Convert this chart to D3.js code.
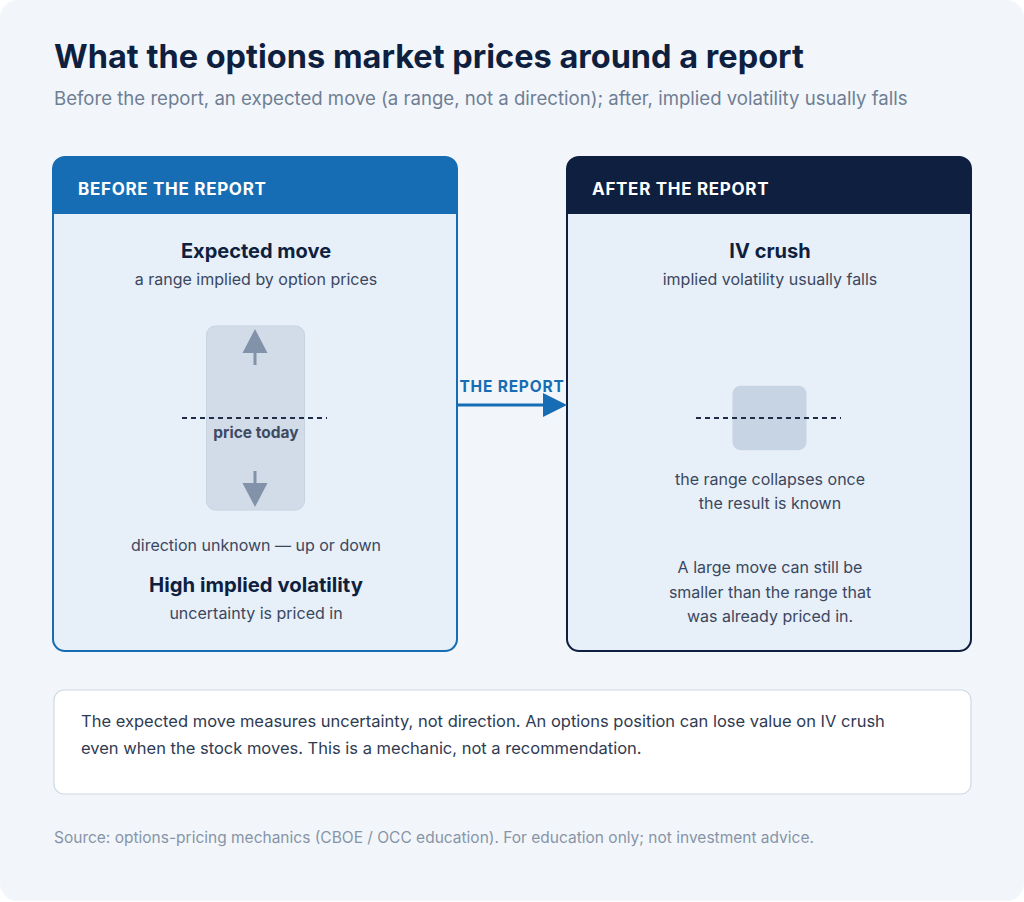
<!DOCTYPE html>
<html><head><meta charset="utf-8">
<script src="https://cdn.jsdelivr.net/npm/d3@7"></script>
<style>
html,body{margin:0;padding:0;background:#ffffff;}
svg{display:block;font-family:Inter,"Noto Sans",sans-serif;}
</style></head>
<body>
<svg id="c" width="1024" height="902"></svg>
<script>
// ---- data ----
const title = "What the options market prices around a report";
const subtitle = "Before the report, an expected move (a range, not a direction); after, implied volatility usually falls";
const panelNames = ["BEFORE THE REPORT", "AFTER THE REPORT"];
const panelHeads = ["Expected move", "IV crush"];
const panelSubs = ["a range implied by option prices", "implied volatility usually falls"];
const bandHalfWidths = [8, 2.8];          // expected-move half range (% of price), before vs after
const bandLabels = ["price today", ""];
const leftLowerLines = ["direction unknown — up or down"];
const leftFootHead = "High implied volatility";
const leftFootSub = "uncertainty is priced in";
const rightMidLines = ["the range collapses once", "the result is known"];
const rightFootLines = ["A large move can still be", "smaller than the range that", "was already priced in."];
const arrowLabel = "THE REPORT";
const noteLines = ["The expected move measures uncertainty, not direction. An options position can lose value on IV crush",
                   "even when the stock moves. This is a mechanic, not a recommendation."];
const source = "Source: options-pricing mechanics (CBOE / OCC education). For education only; not investment advice.";

// ---- drawing ----
const svg = d3.select("#c");
const C = {navy:"#0f1f40", blue:"#176db3", body:"#e7eff8", text:"#3a4760", muted:"#6b7a90"};

svg.append("rect").attr("x",0).attr("y",0).attr("width",1024).attr("height",901).attr("rx",18).attr("fill","#f2f6fa");

svg.append("text").attr("x",54).attr("y",68).attr("font-size",32.5).attr("font-weight",700)
  .attr("fill",C.navy).text(title);
svg.append("text").attr("x",54).attr("y",105).attr("font-size",18.6).attr("fill","#6f7e94").text(subtitle);

const px = d3.scaleBand().domain(panelNames).range([53, 971]).paddingInner(110/514);
const panelTop = 157, panelBottom = 651, headH = 57;
const colors = [C.blue, C.navy];

// expected move scale (percent -> pixels), shared by both panels
const mid = 418;
const yMove = d3.scaleLinear().domain([-8, 8]).range([mid + 92, mid - 92]);

panelNames.forEach((name, i) => {
  const x0 = px(name), w = px.bandwidth(), cx = x0 + w/2;
  const g = svg.append("g");
  g.append("rect").attr("x",x0).attr("y",panelTop).attr("width",w).attr("height",panelBottom-panelTop)
    .attr("rx",12).attr("fill",C.body);
  g.append("path").attr("fill",colors[i])
    .attr("d",`M${x0},${panelTop+headH} V${panelTop+12} Q${x0},${panelTop} ${x0+12},${panelTop} H${x0+w-12} Q${x0+w},${panelTop} ${x0+w},${panelTop+12} V${panelTop+headH} Z`);
  g.append("rect").attr("x",x0).attr("y",panelTop).attr("width",w).attr("height",panelBottom-panelTop)
    .attr("rx",12).attr("fill","none").attr("stroke",colors[i]).attr("stroke-width",2);
  g.append("text").attr("x",x0+25).attr("y",195).attr("font-size",17).attr("font-weight",700)
    .attr("fill","#fff").attr("letter-spacing",0.7).text(name);
  g.append("text").attr("x",cx+1).attr("y",258).attr("text-anchor","middle").attr("font-size",20)
    .attr("font-weight",700).attr("fill",C.navy).text(panelHeads[i]);
  g.append("text").attr("x",cx+1).attr("y",285).attr("text-anchor","middle").attr("font-size",16)
    .attr("fill",C.text).text(panelSubs[i]);

  // expected move band
  const hw = bandHalfWidths[i];
  const bw = i === 0 ? 98 : 74;
  g.append("rect").attr("x",cx - bw/2 + 0.5).attr("y",yMove(hw)).attr("width",bw)
    .attr("height",yMove(-hw)-yMove(hw)).attr("rx",i===0?9:8)
    .attr("fill",i===0?"#d1dce8":"#c7d4e4").attr("stroke",i===0?"#c6d3e1":"none");
  g.append("line").attr("x1",cx-73).attr("x2",cx+72).attr("y1",mid).attr("y2",mid)
    .attr("stroke","#1f2d4a").attr("stroke-width",2).attr("stroke-dasharray","5,4");
  if (bandLabels[i]) {
    g.append("text").attr("x",cx+1).attr("y",438).attr("text-anchor","middle").attr("font-size",15.5)
      .attr("font-weight",700).attr("fill","#3d4a63").text(bandLabels[i]);
  }
  if (i === 0) {
    const top = yMove(hw), bot = yMove(-hw), ac = "#8292a8";
    g.append("path").attr("fill",ac).attr("d",`M${cx},${top+3} L${cx+12.5},${top+27} L${cx-12.5},${top+27} Z`);
    g.append("rect").attr("x",cx-1.5).attr("y",top+26).attr("width",3).attr("height",13).attr("fill",ac);
    g.append("path").attr("fill",ac).attr("d",`M${cx},${bot-3} L${cx+12.5},${bot-27} L${cx-12.5},${bot-27} Z`);
    g.append("rect").attr("x",cx-1.5).attr("y",bot-39).attr("width",3).attr("height",13).attr("fill",ac);

    g.selectAll(null).data(leftLowerLines).join("text").attr("x",cx+1).attr("y",(d,j)=>551+j*24)
      .attr("text-anchor","middle").attr("font-size",16).attr("fill",C.text).text(d=>d);
    g.append("text").attr("x",cx+1).attr("y",592).attr("text-anchor","middle").attr("font-size",20.3)
      .attr("font-weight",700).attr("fill",C.navy).text(leftFootHead);
    g.append("text").attr("x",cx+1).attr("y",619).attr("text-anchor","middle").attr("font-size",16)
      .attr("fill",C.text).text(leftFootSub);
  } else {
    g.selectAll(null).data(rightMidLines).join("text").attr("x",cx+1).attr("y",(d,j)=>485+j*24)
      .attr("text-anchor","middle").attr("font-size",16).attr("fill",C.text).text(d=>d);
    g.selectAll(null).data(rightFootLines).join("text").attr("x",cx+1).attr("y",(d,j)=>573+j*24.5)
      .attr("text-anchor","middle").attr("font-size",16).attr("fill",C.text).text(d=>d);
  }
});

// the report arrow
const ax0 = px(panelNames[0]) + px.bandwidth(), ax1 = px(panelNames[1]);
svg.append("line").attr("x1",ax0).attr("x2",ax1-20).attr("y1",405).attr("y2",405)
  .attr("stroke",C.blue).attr("stroke-width",3);
svg.append("path").attr("fill",C.blue).attr("d",`M${ax1},405 L${ax1-24},393 L${ax1-24},417 Z`);
svg.append("text").attr("x",(ax0+ax1)/2).attr("y",392).attr("text-anchor","middle").attr("font-size",15.5)
  .attr("font-weight",700).attr("fill",C.blue).attr("letter-spacing",0.8).text(arrowLabel);

// note box
svg.append("rect").attr("x",54).attr("y",690).attr("width",917).attr("height",104).attr("rx",10)
  .attr("fill","#ffffff").attr("stroke","#cfd9e5").attr("stroke-width",1.2);
svg.selectAll(".note").data(noteLines).join("text").attr("x",81).attr("y",(d,j)=>727+j*26.5)
  .attr("font-size",16.5).attr("fill","#2f3b52").text(d=>d);

svg.append("text").attr("x",54).attr("y",843).attr("font-size",15.5).attr("fill","#8794a8").text(source);
</script>
</body></html>
